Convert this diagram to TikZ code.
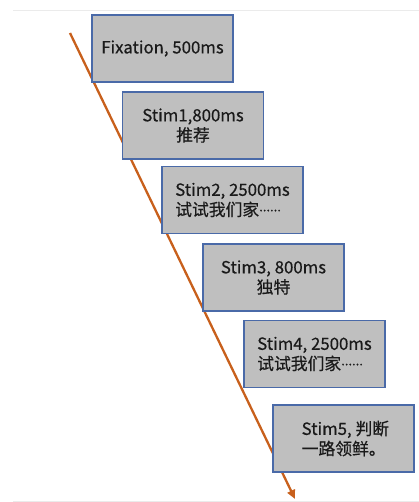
\documentclass[tikz,border=0pt]{standalone}
\usepackage{fontspec}
\setmainfont{Noto Sans CJK SC}[BoldFont={Noto Sans CJK SC}, BoldFeatures={FakeBold=0.5}]
\usetikzlibrary{arrows.meta}
\definecolor{boxfill}{HTML}{BFBFBF}
\definecolor{boxline}{HTML}{4A6AA8}
\definecolor{arrowc}{HTML}{C8601C}
\definecolor{txt}{HTML}{1A1A1A}
\definecolor{faint}{HTML}{EBEBEB}
\newcommand{\middots}{\raisebox{4.5pt}{\fontsize{13}{13}\selectfont......}}
\begin{document}
\begin{tikzpicture}[x=1pt,y=-1pt,
  stimfont/.style={text=txt, font=\fontsize{16.8}{20}\selectfont\bfseries},
  stimbox/.style={draw=boxline, line width=1.1pt, fill=boxfill, minimum width=141pt, minimum height=67pt, inner sep=0pt, stimfont},
  faintline/.style={draw=faint, line width=0.8pt}]
\useasboundingbox (0,0) rectangle (419,502);
\coordinate (t1) at (13,10);
\coordinate (t2) at (419,10);
\coordinate (b1) at (13,501);
\coordinate (b2) at (419,501);
\draw[faintline] (t1) -- (t2);
\draw[faintline] (b1) -- (b2);
\coordinate (as) at (70,33);
\coordinate (ae) at (295,499);
\draw[arrowc, line width=2.3pt, -{Triangle[length=9pt,width=8pt]}] (as) -- (ae);
\node[stimbox] (fix) at (162.5,48.5) {Fixation, 500ms};
\node[stimbox, align=center] (s1) at (193,125.5) {Stim1,800ms\\推荐};
\node[stimbox, align=left] (s2) at (232.5,200) {Stim2, 2500ms\\试试我们家\middots};
\node[stimbox, align=center] (s3) at (273.5,277.5) {Stim3, 800ms\\独特};
\node[stimbox, align=left] (s4) at (314.5,354) {Stim4, 2500ms\\试试我们家\middots};
\node[stimbox] (s5) at (343.5,438.5) {};
\node[stimfont, align=left, inner sep=0pt, anchor=west] (s5t) at ([xshift=29pt]s5.west) {Stim5, 判断\\一路领鲜。};
\end{tikzpicture}
\end{document}
